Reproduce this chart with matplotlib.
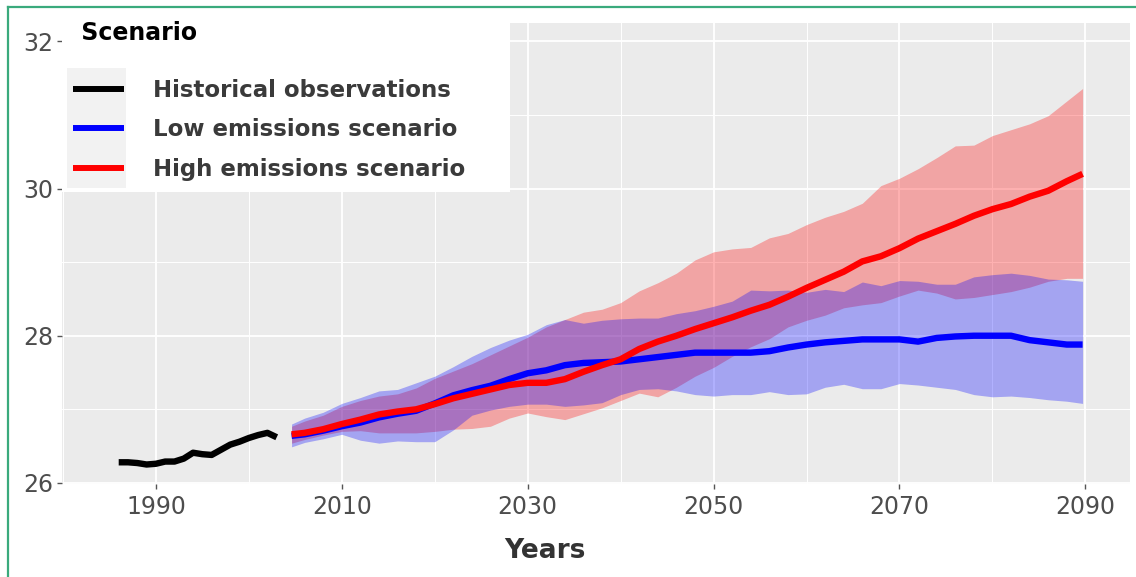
import matplotlib
matplotlib.use("Agg")
import matplotlib.pyplot as plt
from matplotlib.lines import Line2D
from matplotlib.patches import Rectangle
from matplotlib.legend_handler import HandlerBase

# historical observations
hist_years = [1986, 1987, 1988, 1989, 1990, 1991, 1992, 1993, 1994, 1995,
              1996, 1997, 1998, 1999, 2000, 2001, 2002, 2003]
hist_temp = [26.28, 26.28, 26.27, 26.25, 26.26, 26.29, 26.29, 26.33, 26.41, 26.39,
             26.38, 26.45, 26.52, 26.56, 26.61, 26.65, 26.68, 26.62]

# projections
proj_years = [2004.6, 2006, 2008, 2010, 2012, 2014, 2016, 2018, 2020, 2022,
              2024, 2026, 2028, 2030, 2032, 2034, 2036, 2038, 2040, 2042,
              2044, 2046, 2048, 2050, 2052, 2054, 2056, 2058, 2060, 2062,
              2064, 2066, 2068, 2070, 2072, 2074, 2076, 2078, 2080, 2082,
              2084, 2086, 2088, 2089.7]

high_mean = [26.66, 26.68, 26.73, 26.80, 26.86, 26.93, 26.97, 27.00, 27.07, 27.15,
             27.21, 27.27, 27.33, 27.36, 27.36, 27.41, 27.51, 27.60, 27.68, 27.82,
             27.92, 28.00, 28.09, 28.17, 28.25, 28.34, 28.42, 28.53, 28.65, 28.76,
             28.87, 29.01, 29.08, 29.19, 29.32, 29.42, 29.52, 29.63, 29.72, 29.79,
             29.89, 29.97, 30.10, 30.20]
high_upper = [26.77, 26.84, 26.92, 27.04, 27.12, 27.18, 27.21, 27.29, 27.42, 27.52,
              27.62, 27.74, 27.86, 27.98, 28.12, 28.22, 28.32, 28.36, 28.45, 28.61,
              28.72, 28.85, 29.03, 29.14, 29.18, 29.20, 29.33, 29.39, 29.51, 29.61,
              29.69, 29.80, 30.04, 30.14, 30.27, 30.42, 30.58, 30.59, 30.72, 30.80,
              30.88, 30.99, 31.19, 31.36]
high_lower = [26.54, 26.59, 26.65, 26.70, 26.71, 26.68, 26.68, 26.68, 26.70, 26.73,
              26.74, 26.77, 26.88, 26.95, 26.90, 26.86, 26.94, 27.02, 27.12, 27.22,
              27.17, 27.30, 27.45, 27.57, 27.72, 27.85, 27.96, 28.12, 28.21, 28.28,
              28.38, 28.42, 28.45, 28.54, 28.62, 28.58, 28.50, 28.52, 28.56, 28.60,
              28.66, 28.74, 28.78, 28.78]

low_mean = [26.64, 26.66, 26.71, 26.77, 26.82, 26.89, 26.94, 26.98, 27.08, 27.19,
            27.26, 27.32, 27.41, 27.49, 27.53, 27.60, 27.63, 27.64, 27.65, 27.68,
            27.71, 27.74, 27.77, 27.77, 27.77, 27.77, 27.79, 27.84, 27.88, 27.91,
            27.93, 27.95, 27.95, 27.95, 27.92, 27.97, 27.99, 28.00, 28.00, 28.00,
            27.94, 27.91, 27.88, 27.88]
low_upper = [26.80, 26.88, 26.96, 27.08, 27.16, 27.25, 27.27, 27.36, 27.45, 27.58,
             27.72, 27.84, 27.94, 28.02, 28.15, 28.22, 28.17, 28.21, 28.23, 28.24,
             28.24, 28.30, 28.34, 28.40, 28.47, 28.62, 28.61, 28.62, 28.59, 28.63,
             28.60, 28.73, 28.68, 28.75, 28.74, 28.70, 28.70, 28.80, 28.83, 28.85,
             28.82, 28.77, 28.76, 28.74]
low_lower = [26.49, 26.55, 26.60, 26.66, 26.58, 26.54, 26.57, 26.56, 26.56, 26.72,
             26.92, 26.99, 27.04, 27.07, 27.07, 27.04, 27.06, 27.09, 27.20, 27.27,
             27.28, 27.25, 27.20, 27.18, 27.20, 27.20, 27.24, 27.20, 27.21, 27.30,
             27.34, 27.28, 27.28, 27.35, 27.33, 27.30, 27.27, 27.20, 27.17, 27.18,
             27.16, 27.13, 27.11, 27.08]

labels = ["Historical observations", "Low emissions scenario", "High emissions scenario"]
x_major = [1990, 2010, 2030, 2050, 2070, 2090]
x_minor = [1980, 2000, 2020, 2040, 2060, 2080]
y_major = [26, 28, 30, 32]
y_minor = [27, 29, 31]


class KeyHandler(HandlerBase):
    # grey key background like ggplot, line on top
    def create_artists(self, legend, orig_handle, xdescent, ydescent,
                       width, height, fontsize, trans):
        yc = (height - ydescent) / 2
        bg = Rectangle((-xdescent - 4.5, yc - 14.6), width + 6, 29.2,
                       facecolor="#F2F2F2", edgecolor="none", transform=trans)
        ln = Line2D([-xdescent, width - xdescent], [yc, yc],
                    color=orig_handle.get_color(), lw=4.3,
                    solid_capstyle="butt", transform=trans)
        return [bg, ln]


fig = plt.figure(figsize=(11.36, 5.77), dpi=100)
ax = fig.add_axes([62 / 1136, 93 / 577, 1068 / 1136, 461 / 577])
ax.set_facecolor("#EBEBEB")
for s in ax.spines.values():
    s.set_visible(False)

ax.fill_between(proj_years, high_lower, high_upper, color="#FF0000", alpha=0.3, lw=0)
ax.fill_between(proj_years, low_lower, low_upper, color="#0000FF", alpha=0.3, lw=0)
h_low, = ax.plot(proj_years, low_mean, color="#0000FF", lw=4.6, solid_capstyle="butt")
h_high, = ax.plot(proj_years, high_mean, color="#FF0000", lw=4.6, solid_capstyle="butt")
h_hist, = ax.plot(hist_years, hist_temp, color="black", lw=4.6, solid_capstyle="butt")

ax.set_xlim(1979.9, 2094.8)
ax.set_ylim(25.985, 32.25)
ax.set_xticks(x_major)
ax.set_xticks(x_minor, minor=True)
ax.set_yticks(y_major)
ax.set_yticks(y_minor, minor=True)
ax.grid(which="major", color="white", lw=1.3)
ax.grid(which="minor", color="white", lw=0.7)
ax.set_axisbelow(True)
ax.tick_params(which="major", length=3.5, width=1, color="#555555",
               labelcolor="#4D4D4D", labelsize=17)
ax.tick_params(axis="x", which="major", pad=4.5)
ax.tick_params(axis="y", which="major", pad=3)
ax.tick_params(which="minor", length=0)

ax.set_xlabel("Years", fontsize=19, fontweight="bold", color="#333333")
ax.xaxis.set_label_coords(0.452, -0.118)

leg = ax.legend([h_hist, h_low, h_high], labels, title=" Scenario",
                loc="upper left", bbox_to_anchor=(0, 1.03, 0.4195, 0),
                mode="expand", borderaxespad=0, fancybox=False,
                framealpha=1, facecolor="white", edgecolor="none",
                handler_map={Line2D: KeyHandler()}, handlelength=2.2,
                handletextpad=1.25, labelspacing=0.72, borderpad=0.5,
                prop={"weight": "bold", "size": 16.5},
                title_fontproperties={"weight": "bold", "size": 17},
                alignment="left")
leg.get_frame().set_linewidth(0)
for t in leg.get_texts():
    t.set_color("#3A3A3A")
leg.get_title().set_color("black")
try:
    leg._legend_box.sep = 24.5
except AttributeError:
    pass

# green frame of the original picture (left and top)
border = "#3AAA7C"
fig.add_artist(Line2D([8 / 1136, 8 / 1136], [0, 1 - 7 / 577], color=border, lw=1.6,
                      transform=fig.transFigure))
fig.add_artist(Line2D([8 / 1136, 1], [1 - 7 / 577, 1 - 7 / 577], color=border, lw=1.6,
                      transform=fig.transFigure))

fig.savefig("out.png", dpi=100, facecolor="white")
